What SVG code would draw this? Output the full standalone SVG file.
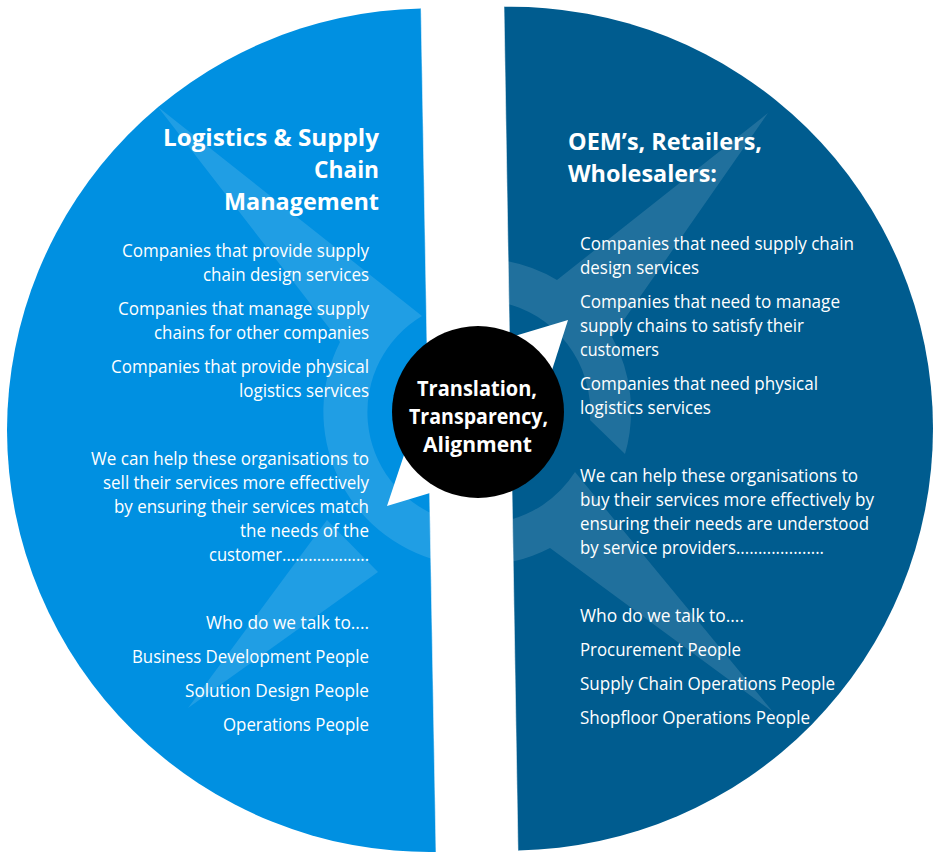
<svg xmlns="http://www.w3.org/2000/svg" width="941" height="860" viewBox="0 0 941 860">
<style>
text{fill:#fff;font-family:"Open Sans","Noto Sans","Liberation Sans",sans-serif}
.b{font-size:17.6px}
.t{font-size:24px;font-weight:700}
.c{font-size:21px;font-weight:700}
.s{fill:#fff;fill-opacity:.125}
.e{stroke:#fff;stroke-opacity:.55;stroke-width:1;fill:none}
</style>
<defs>
<path id="lh" d="M421,8.5A422.5,422.5 0 0 0 7,430A422.5,422.5 0 0 0 436,852Z"/>
<path id="rh" d="M504,6.8A422,422 0 0 1 933,428.5A422,422 0 0 1 518,850.4Z"/>
<clipPath id="lc"><use href="#lh"/></clipPath>
<clipPath id="rc"><use href="#rh"/></clipPath>
</defs>
<rect width="941" height="860" fill="#fff"/>
<g id="left-half">
<use href="#lh" fill="#0090E1"/>
<g clip-path="url(#lc)">
<path class="s" d="M158,107L422,316A112,112 0 0 0 440,517L440,561A154,154 0 0 1 340,342Z"/>
<path class="s" d="M188,708L327,520L378,572Z"/>
</g>
<path class="e" d="M421,8.5L436,852"/>
<g class="b">
<text x="122" y="257" textLength="247" lengthAdjust="spacingAndGlyphs">Companies that provide supply</text>
<text x="203" y="281" textLength="166" lengthAdjust="spacingAndGlyphs">chain design services</text>
<text x="118" y="315" textLength="251" lengthAdjust="spacingAndGlyphs">Companies that manage supply</text>
<text x="154" y="339" textLength="215" lengthAdjust="spacingAndGlyphs">chains for other companies</text>
<text x="111" y="373" textLength="258" lengthAdjust="spacingAndGlyphs">Companies that provide physical</text>
<text x="239" y="397" textLength="130" lengthAdjust="spacingAndGlyphs">logistics services</text>
<text x="91" y="465" textLength="278" lengthAdjust="spacingAndGlyphs">We can help these organisations to</text>
<text x="103" y="489" textLength="266" lengthAdjust="spacingAndGlyphs">sell their services more effectively</text>
<text x="114" y="513" textLength="255" lengthAdjust="spacingAndGlyphs">by ensuring their services match</text>
<text x="240" y="537" textLength="129" lengthAdjust="spacingAndGlyphs">the needs of the</text>
<text x="209" y="561" textLength="160" lengthAdjust="spacingAndGlyphs">customer....................</text>
<text x="206" y="629" textLength="163" lengthAdjust="spacingAndGlyphs">Who do we talk to....</text>
<text x="132" y="663" textLength="237" lengthAdjust="spacingAndGlyphs">Business Development People</text>
<text x="185" y="697" textLength="184" lengthAdjust="spacingAndGlyphs">Solution Design People</text>
<text x="223" y="731" textLength="146" lengthAdjust="spacingAndGlyphs">Operations People</text>
</g>
<g class="t">
<text x="163" y="146" textLength="216" lengthAdjust="spacingAndGlyphs">Logistics &amp; Supply</text>
<text x="314" y="178" textLength="65" lengthAdjust="spacingAndGlyphs">Chain</text>
<text x="224" y="210" textLength="155" lengthAdjust="spacingAndGlyphs">Management</text>
</g>
</g>
<g id="right-half">
<use href="#rh" fill="#005C8F"/>
<g clip-path="url(#rc)">
<path class="s" d="M768,113L612,337A154,154 0 0 1 625,454L590,420A112,112 0 0 0 500,302L500,260A154,154 0 0 1 557,280Z"/>
<path class="s" d="M773,712L575,472A112,112 0 0 1 500,522L500,564A154,154 0 0 0 550,548Z"/>
</g>
<path class="e" d="M504,6.8L518,850.4"/>
<g class="b">
<text x="580" y="250" textLength="274" lengthAdjust="spacingAndGlyphs">Companies that need supply chain</text>
<text x="580" y="274" textLength="119" lengthAdjust="spacingAndGlyphs">design services</text>
<text x="580" y="308" textLength="260" lengthAdjust="spacingAndGlyphs">Companies that need to manage</text>
<text x="580" y="332" textLength="224" lengthAdjust="spacingAndGlyphs">supply chains to satisfy their</text>
<text x="580" y="356" textLength="79" lengthAdjust="spacingAndGlyphs">customers</text>
<text x="580" y="390" textLength="238" lengthAdjust="spacingAndGlyphs">Companies that need physical</text>
<text x="580" y="414" textLength="131" lengthAdjust="spacingAndGlyphs">logistics services</text>
<text x="580" y="482" textLength="278" lengthAdjust="spacingAndGlyphs">We can help these organisations to</text>
<text x="580" y="506" textLength="294" lengthAdjust="spacingAndGlyphs">buy their services more effectively by</text>
<text x="580" y="530" textLength="289" lengthAdjust="spacingAndGlyphs">ensuring their needs are understood</text>
<text x="580" y="554" textLength="244" lengthAdjust="spacingAndGlyphs">by service providers....................</text>
<text x="580" y="622" textLength="164" lengthAdjust="spacingAndGlyphs">Who do we talk to....</text>
<text x="580" y="656" textLength="161" lengthAdjust="spacingAndGlyphs">Procurement People</text>
<text x="580" y="690" textLength="255" lengthAdjust="spacingAndGlyphs">Supply Chain Operations People</text>
<text x="580" y="724" textLength="230" lengthAdjust="spacingAndGlyphs">Shopfloor Operations People</text>
</g>
<g class="t">
<text x="568" y="150" textLength="194" lengthAdjust="spacingAndGlyphs">OEM’s, Retailers,</text>
<text x="568" y="182" textLength="149" lengthAdjust="spacingAndGlyphs">Wholesalers:</text>
</g>
</g>
<g id="connectors" fill="#fff">
<polygon points="568,320 468,350 478,412 538,414"/>
<polygon points="387,506 419,410 478,412 473,480"/>
</g>
<g id="center">
<circle cx="478" cy="412" r="86" fill="#000"/>
<g class="c">
<text x="417" y="396" textLength="120" lengthAdjust="spacingAndGlyphs">Translation,</text>
<text x="409" y="424" textLength="139" lengthAdjust="spacingAndGlyphs">Transparency,</text>
<text x="423" y="452" textLength="109" lengthAdjust="spacingAndGlyphs">Alignment</text>
</g>
</g>
</svg>
